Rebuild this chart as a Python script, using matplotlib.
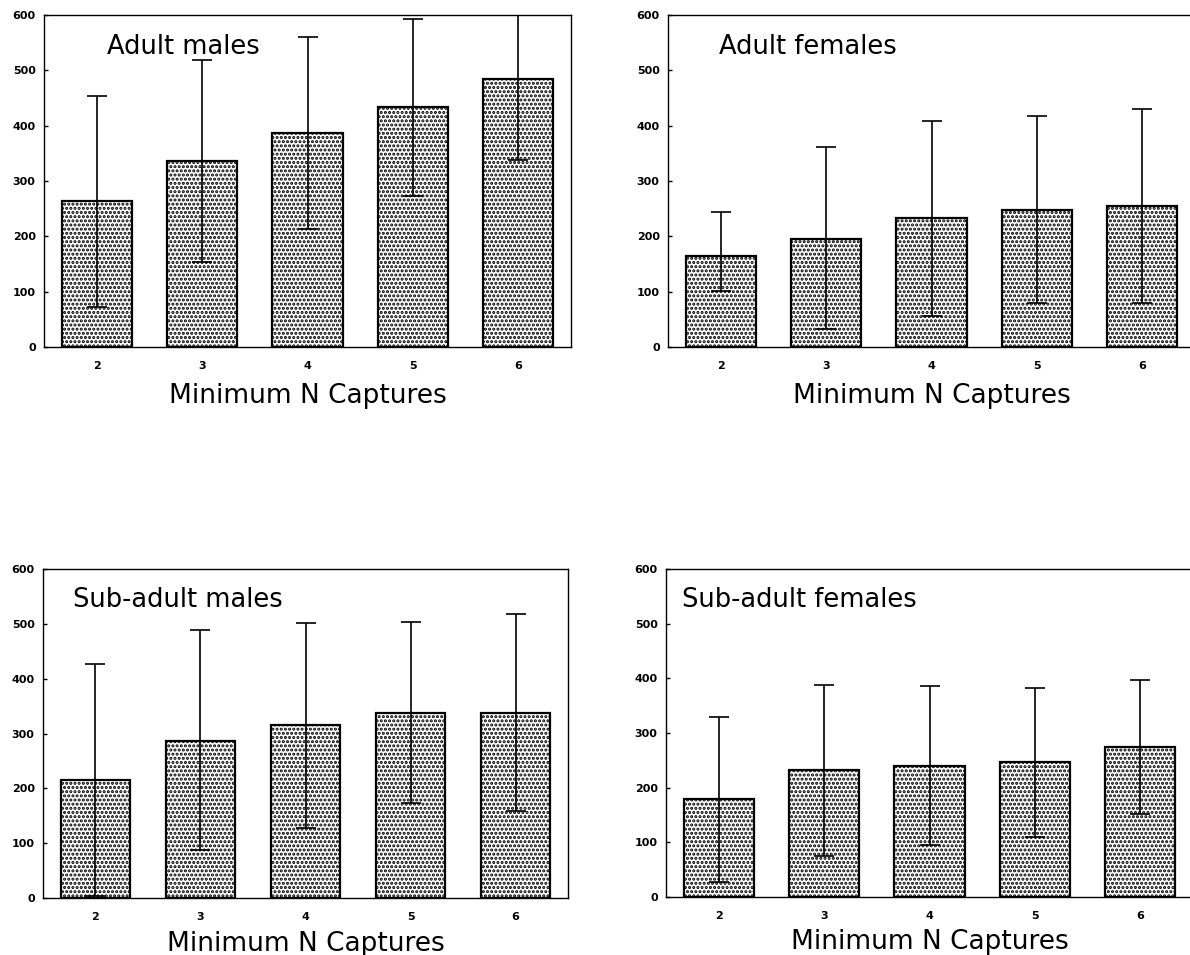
import matplotlib
matplotlib.use("Agg")
import matplotlib.pyplot as plt
import numpy as np

# ---- data ----
captures = [2, 3, 4, 5, 6]
tick_labels = ["2", "3", "4", "5", "6"]
yticks = [0, 100, 200, 300, 400, 500, 600]

titles = ["Adult males", "Adult females", "Sub-adult males", "Sub-adult females"]

am_mean = [264, 336, 387, 434, 484]
am_low = [72, 154, 214, 273, 338]
am_high = [454, 519, 560, 593, 630]

af_mean = [164, 196, 233, 248, 255]
af_low = [101, 32, 56, 79, 80]
af_high = [244, 362, 409, 418, 430]

sm_mean = [215, 287, 315, 338, 338]
sm_low = [4, 87, 128, 174, 159]
sm_high = [426, 488, 502, 503, 518]

sf_mean = [179, 232, 240, 247, 275]
sf_low = [28, 75, 95, 110, 151]
sf_high = [330, 388, 386, 382, 397]

xlabel = "Minimum N Captures"

# ---- styling ----
plt.rcParams['hatch.linewidth'] = 1.5
plt.rcParams['font.family'] = ['DejaVu Sans']

W, H = 1190, 955
fig = plt.figure(figsize=(W / 100, H / 100), dpi=100)
fig.patch.set_facecolor('white')

def px_axes(left, top, right, bottom):
    return [left / W, (H - bottom) / H, (right - left) / W, (bottom - top) / H]

positions = [
    px_axes(44, 15, 571, 347),
    px_axes(668, 15, 1195, 347),
    px_axes(43, 569, 568, 898),
    px_axes(666, 569, 1193, 897),
]
title_x = [0.120, 0.096, 0.057, 0.031]
title_y = [0.884, 0.884, 0.883, 0.885]
xlabel_y = [-0.168, -0.168, -0.160, -0.160]

panels = [
    (am_mean, am_low, am_high),
    (af_mean, af_low, af_high),
    (sm_mean, sm_low, sm_high),
    (sf_mean, sf_low, sf_high),
]

for i, (mean, low, high) in enumerate(panels):
    ax = fig.add_axes(positions[i])
    mean = np.array(mean, dtype=float)
    low = np.array(low, dtype=float)
    high = np.array(high, dtype=float)
    ax.bar(captures, mean, width=0.665, facecolor='white', edgecolor='black',
           linewidth=1.6, hatch='....', zorder=2)
    ax.errorbar(captures, mean, yerr=[mean - low, high - mean], fmt='none',
                ecolor='black', elinewidth=1.2, capsize=7, capthick=1.2, zorder=3)
    ax.set_xlim(1.5, 6.5)
    ax.set_ylim(0, 600)
    ax.set_yticks(yticks)
    ax.set_yticklabels([str(v) for v in yticks])
    ax.set_xticks(captures)
    ax.set_xticklabels(tick_labels)
    for lab in ax.get_xticklabels() + ax.get_yticklabels():
        lab.set_fontweight('bold')
        lab.set_fontsize(8)
    ax.tick_params(axis='y', direction='in', length=3, width=1, pad=6)
    ax.tick_params(axis='x', length=0, pad=10)
    for s in ax.spines.values():
        s.set_linewidth(1.0)
    ax.text(title_x[i], title_y[i], titles[i], transform=ax.transAxes,
            fontsize=18.5, ha='left', va='baseline')
    ax.set_xlabel(xlabel, fontsize=19)
    ax.xaxis.label.set_va('baseline')
    ax.xaxis.set_label_coords(0.5, xlabel_y[i])

fig.savefig("out.png", dpi=100, facecolor='white')
